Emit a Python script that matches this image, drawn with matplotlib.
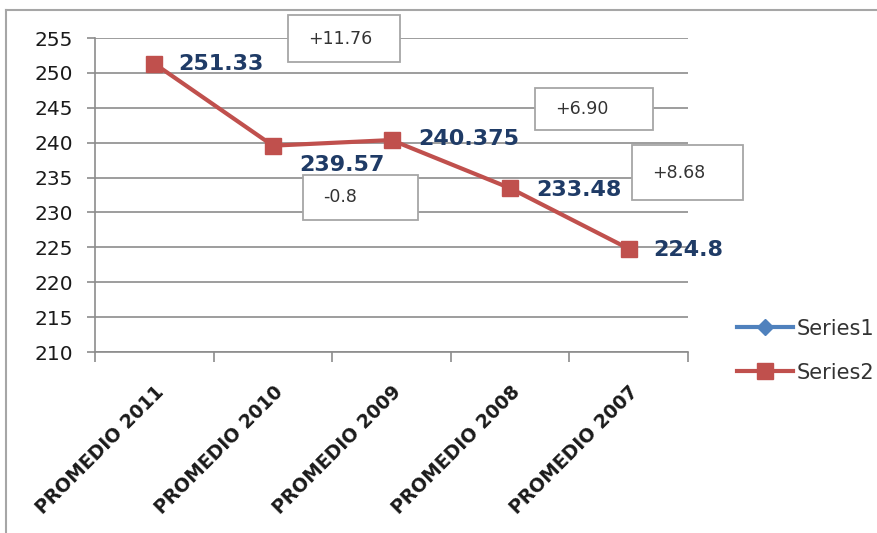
import matplotlib
matplotlib.use("Agg")
import matplotlib.pyplot as plt
from matplotlib.patches import Rectangle
from matplotlib.lines import Line2D

# data
categories = ["PROMEDIO 2011", "PROMEDIO 2010", "PROMEDIO 2009", "PROMEDIO 2008", "PROMEDIO 2007"]
series2 = [251.33, 239.57, 240.375, 233.48, 224.8]
series2_labels = ["251.33", "239.57", "240.375", "233.48", "224.8"]
series1 = []  # empty series, only shows in the legend
diff_labels = ["+11.76", "-0.8", "+6.90", "+8.68"]
yticks = [210, 215, 220, 225, 230, 235, 240, 245, 250, 255]

W, H = 877, 533


def fx(x):
    return x / W


def fy(y):
    return 1 - y / H


def main():
    fig = plt.figure(figsize=(W / 100, H / 100), dpi=100)
    fig.patch.set_facecolor("white")

    # outer chart border (left and top visible)
    fig.add_artist(Line2D([fx(6), fx(6)], [fy(10), 0], color="#a6a6a6", lw=1.5))
    fig.add_artist(Line2D([fx(6), 1], [fy(10), fy(10)], color="#a6a6a6", lw=1.5))

    ax = fig.add_axes([fx(95), fy(352), (688 - 95) / W, (352 - 38) / H])
    xs = list(range(len(categories)))

    ax.plot(series1, series1, color="#4F81BD", lw=3, marker="D", markersize=8, label="Series1")
    ax.plot(xs, series2, color="#C0504D", lw=3, marker="s", markersize=12, label="Series2")

    ax.set_xlim(-0.5, len(categories) - 0.5)
    ax.set_ylim(210, 255)
    ax.set_yticks(yticks)
    ax.yaxis.grid(True, color="#8c8c8c", lw=1.2)
    ax.set_axisbelow(True)

    for s in ["top", "right"]:
        ax.spines[s].set_visible(False)
    for s in ["left", "bottom"]:
        ax.spines[s].set_color("#8c8c8c")
        ax.spines[s].set_linewidth(1.2)

    ax.tick_params(axis="y", length=6, width=1.2, color="#8c8c8c",
                   labelsize=14.5, labelcolor="#1a1a1a", pad=10)

    # category labels at centres, tick marks at boundaries
    ax.set_xticks(xs)
    ax.set_xticklabels(categories, rotation=45, ha="right", va="top",
                       rotation_mode="anchor", fontsize=13.5, fontweight="bold",
                       color="#1a1a1a")
    ax.tick_params(axis="x", which="major", length=0, pad=22)
    ax.set_xticks([i - 0.5 for i in range(len(categories) + 1)], minor=True)
    ax.tick_params(axis="x", which="minor", length=7, width=1.2, color="#8c8c8c")

    # data labels
    offsets = [(17, 0), (19, -14), (19, 1), (19, -1), (18, -1)]
    for x, v, lab, off in zip(xs, series2, series2_labels, offsets):
        ax.annotate(lab, (x, v), xytext=off, textcoords="offset points",
                    ha="left", va="center", fontsize=16, fontweight="bold",
                    color="#1F3B66")

    # difference boxes (pixel boxes: left, top, right, bottom)
    boxes = [(288, 15, 400, 62), (303, 175, 418, 220), (535, 88, 653, 130), (632, 145, 743, 200)]
    for lab, (l, t, r, b) in zip(diff_labels, boxes):
        fig.add_artist(Rectangle((fx(l), fy(b)), (r - l) / W, (b - t) / H,
                                 facecolor="white", edgecolor="#a6a6a6", lw=1.3,
                                 transform=fig.transFigure, zorder=5))
        fig.text(fx(l + 20), fy((t + b) / 2), lab, ha="left", va="center",
                 fontsize=12.5, color="#333333", zorder=6)

    fig.legend(loc="upper left", bbox_to_anchor=(fx(718), fy(300)),
               frameon=False, fontsize=15, handlelength=2.7, handletextpad=0.15,
               labelspacing=1.15, labelcolor="#333333")

    fig.savefig("out.png", dpi=100)


if __name__ == "__main__":
    main()
